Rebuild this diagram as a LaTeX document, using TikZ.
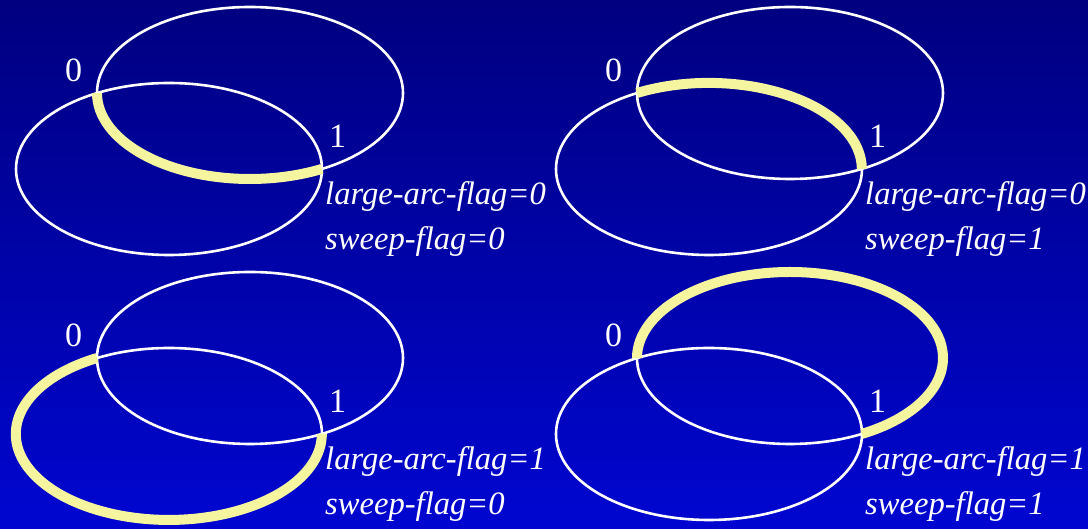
\documentclass[tikz,border=0pt]{standalone}
\usepackage{fontspec}
\setmainfont{Liberation Serif}
\definecolor{bgtop}{RGB}{0,0,128}
\definecolor{bgbot}{RGB}{0,6,208}
\definecolor{hilite}{RGB}{245,245,160}
\tikzset{
  ell/.style={draw=white, line width=2.6pt},
  hl/.style={draw=hilite, line width=10pt, line cap=butt},
  ptlabel/.style={text=white, font=\fontsize{34}{40}\selectfont, inner sep=0pt},
  flaglabel/.style={text=white, font=\fontsize{32.6}{38}\selectfont\itshape, inner sep=0pt, anchor=base west},
}
\newcommand{\arcpanel}[4]{%
  % #1 = suffix, #2 = large-arc-flag, #3 = sweep-flag, #4 = yellow arc spec
  \draw[ell] (250,436) ellipse [x radius=153pt, y radius=86pt];
  \draw[ell] (169,360) ellipse [x radius=153pt, y radius=86pt];
  \coordinate (p0#1) at (97,436);
  \coordinate (p1#1) at (322,360);
  \draw[hl] (p0#1) arc[#4, x radius=153pt, y radius=86pt];
  \node[ptlabel] (zero#1) at (73.5,459) {0};
  \node[ptlabel] (one#1) at (337.5,393) {1};
  \node[flaglabel] (large#1) at (325,324) {large-arc-flag=#2};
  \node[flaglabel] (sweep#1) at (325,279) {sweep-flag=#3};
}
\begin{document}
\begin{tikzpicture}[x=1pt,y=1pt]
  \shade[top color=bgtop, bottom color=bgbot] (0,0) rectangle (1088,529);
  \useasboundingbox (0,0) rectangle (1088,529);
  \begin{scope}
    \arcpanel{a}{0}{0}{start angle=180, end angle=298}
  \end{scope}
  \begin{scope}[shift={(540,0)}]
    \arcpanel{b}{0}{1}{start angle=118, end angle=0}
  \end{scope}
  \begin{scope}[shift={(0,-265)}]
    \arcpanel{c}{1}{0}{start angle=118, end angle=360}
  \end{scope}
  \begin{scope}[shift={(540,-265)}]
    \arcpanel{d}{1}{1}{start angle=180, end angle=-62}
  \end{scope}
\end{tikzpicture}
\end{document}
